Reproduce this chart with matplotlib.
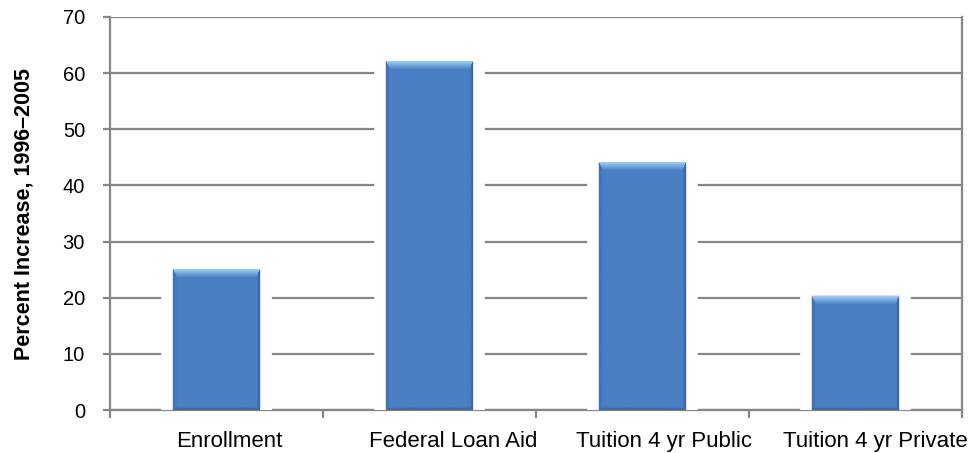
import numpy as np
import matplotlib
matplotlib.use('Agg')
import matplotlib.pyplot as plt
from matplotlib.transforms import ScaledTranslation

# Percent increase, 1996-2005
categories = ['Enrollment', 'Federal Loan Aid', 'Tuition 4 yr Public', 'Tuition 4 yr Private']
increase = [25, 62, 44, 20.3]
y_ticks = [0, 10, 20, 30, 40, 50, 60, 70]

plt.rcParams['font.family'] = ['Liberation Sans', 'DejaVu Sans']

W, H = 973, 453
fig = plt.figure(figsize=(W / 100, H / 100), dpi=100)
ax = fig.add_axes([110 / W, 1 - 410 / H, (962 - 110) / W, (410 - 17) / H])

x = np.arange(len(categories))
ax.set_xlim(-0.5, len(categories) - 0.5)
ax.set_ylim(0, 70)

grey = '#868686'

# gridlines behind everything
for v in y_ticks:
    ax.axhline(v, color=grey, lw=1.6, zorder=1)

# white halo so gridlines stop short of each bar
bars = ax.bar(x, increase, width=0.405, color='#4a7ec4',
              edgecolor='white', linewidth=17, zorder=2)

base = np.array([74, 127, 195]) / 255
top_c = np.array([165, 210, 248]) / 255
side_c = np.array([52, 98, 165]) / 255
bot_c = np.array([45, 88, 150]) / 255


def bevel_image(w, h):
    # pixel grid with a bevelled edge: light top, darker sides and bottom
    ii, jj = np.mgrid[0:h, 0:w]
    dt = ii / 8.0
    db = (h - 1 - ii) / 2.5
    dl = jj / 4.0
    dr = (w - 1 - jj) / 3.0
    stack = np.stack([dt, db, dl, dr])
    face = np.argmin(stack, axis=0)
    d = np.min(stack, axis=0)
    img = np.tile(base, (h, w, 1))
    k = np.clip(1 - d, 0, 1)[..., None]
    colors = [top_c, bot_c, side_c, side_c]
    strength = [0.9, 0.7, 0.5, 0.9]
    for f, c in enumerate(colors):
        m = (face == f)[..., None]
        kk = k * strength[f]
        img = np.where(m, img * (1 - kk) + c * kk, img)
    return np.clip(img, 0, 1)


for b, val in zip(bars, increase):
    x0, x1 = b.get_x(), b.get_x() + b.get_width()
    p0 = ax.transData.transform((x0, 0))
    p1 = ax.transData.transform((x1, val))
    w = max(int(round(p1[0] - p0[0])), 2)
    h = max(int(round(p1[1] - p0[1])), 2)
    ax.imshow(bevel_image(w, h), extent=(x0, x1, 0, val), origin='upper',
              aspect='auto', interpolation='bilinear', zorder=3)
    # faint outline around each bar
    ax.add_patch(plt.Rectangle((x0, 0), x1 - x0, val, fill=False,
                               edgecolor='#d8dde4', lw=1.2, zorder=2.5))

ax.set_xlim(-0.5, len(categories) - 0.5)
ax.set_ylim(0, 70)

ax.spines['top'].set_visible(False)
for side in ['left', 'right', 'bottom']:
    ax.spines[side].set_color(grey)
    ax.spines[side].set_linewidth(1.6)
    ax.spines[side].set_zorder(1.5)

ax.set_yticks(y_ticks)
ax.tick_params(axis='y', direction='out', length=5, width=1.6, color=grey,
               labelsize=14.5, pad=13)
ax.set_xticks(x)
ax.set_xticklabels(categories)
ax.tick_params(axis='x', which='major', length=0, labelsize=16, pad=15)
ax.set_xticks(np.arange(-0.5, len(categories)), minor=True)
ax.tick_params(axis='x', which='minor', direction='out', length=6, width=1.6,
               color=grey)

# category labels sit a little right of the bar centres
label_shift = [13, 24, 22, 20]
for lbl, dx in zip(ax.get_xticklabels(), label_shift):
    lbl.set_transform(lbl.get_transform() + ScaledTranslation(dx / 100, 0, fig.dpi_scale_trans))

ax.set_ylabel('Percent Increase, 1996\u20132005', fontsize=15.5, fontweight='bold',
              labelpad=20)

fig.savefig('out.png', dpi=100, facecolor='white')
